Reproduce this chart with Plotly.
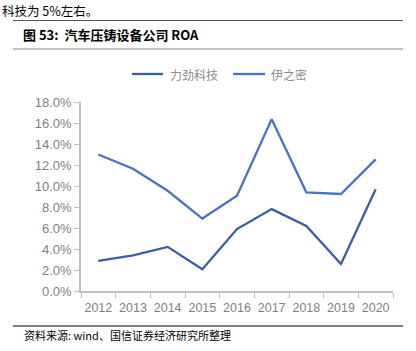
import plotly.graph_objects as go

years = ["2012", "2013", "2014", "2015", "2016", "2017", "2018", "2019", "2020"]
series_names = ["力劲科技", "伊之密"]
lijin = [2.86, 3.4, 4.2, 2.07, 5.9, 7.8, 6.2, 2.57, 9.7]
yizhimi = [13.0, 11.65, 9.55, 6.9, 9.07, 16.35, 9.4, 9.24, 12.54]
colors = ["#3B5DA6", "#4A72BD"]
y_ticks = [0, 2, 4, 6, 8, 10, 12, 14, 16, 18]

W, H = 416, 351
L, R, T, B = 81, 23, 102, 60
PW, PH = W - L - R, H - T - B

def px(x):
    return (x - L) / PW

def py(y):
    return (H - B - y) / PH

fig = go.Figure()
for name, vals, c in zip(series_names, [lijin, yizhimi], colors):
    fig.add_trace(go.Scatter(x=years, y=vals, mode="lines", name=name,
                             line=dict(color=c, width=2.3), showlegend=False))

fig.update_layout(
    width=W, height=H,
    margin=dict(l=L, r=R, t=T, b=B),
    paper_bgcolor="white", plot_bgcolor="white",
    font=dict(family="Liberation Sans, Arial", color="#7F7F7F"),
    xaxis=dict(type="category", tickson="boundaries", ticks="outside", ticklen=5,
               tickcolor="#BFBFBF", showline=True, linecolor="#BFBFBF", linewidth=1.5,
               showgrid=False, tickfont=dict(size=12.5, color="#7F7F7F"), tickangle=0,
               ticklabelstandoff=4,
               range=[-0.5, 8.5], fixedrange=True, automargin=False),
    yaxis=dict(range=[0, 18], tickvals=y_ticks, ticktext=[f"{v:.1f}%" for v in y_ticks],
               ticks="outside", ticklen=5, tickcolor="#BFBFBF", showline=True,
               linecolor="#BFBFBF", linewidth=1.5, showgrid=False, zeroline=False,
               tickfont=dict(size=13, color="#7F7F7F"), automargin=False),
)

annotations = []
shapes = []

# top body text
annotations.append(dict(text="科技为 5%左右。", x=px(0), y=py(10), xref="paper", yref="paper",
                        xanchor="left", yanchor="middle", showarrow=False,
                        font=dict(family="Noto Sans CJK SC", size=12.5, color="#000000")))
# title
annotations.append(dict(text="<b>图 53:  汽车压铸设备公司 ROA</b>", x=px(21), y=py(34), xref="paper", yref="paper",
                        xanchor="left", yanchor="middle", showarrow=False,
                        font=dict(family="Noto Sans CJK SC", size=13, color="#000000")))
# source
annotations.append(dict(text="资料来源: wind、国信证券经济研究所整理", x=px(22), y=py(335), xref="paper", yref="paper",
                        xanchor="left", yanchor="middle", showarrow=False,
                        font=dict(family="Noto Sans CJK SC", size=11, color="#000000")))

for y0, col in [(20.5, "#555555"), (49, "#888888"), (326, "#000000")]:
    shapes.append(dict(type="line", xref="paper", yref="paper", x0=px(13), x1=px(403),
                       y0=py(y0), y1=py(y0), line=dict(color=col, width=1)))

# legend
leg = [(132, 163, 168), (233, 265, 269)]
for (lx0, lx1, tx), name, c in zip(leg, series_names, colors):
    shapes.append(dict(type="line", xref="paper", yref="paper", x0=px(lx0), x1=px(lx1),
                       y0=py(74), y1=py(74), line=dict(color=c, width=2.3)))
    annotations.append(dict(text=name, x=px(tx), y=py(74), xref="paper", yref="paper",
                            xanchor="left", yanchor="middle", showarrow=False,
                            font=dict(family="Noto Sans CJK SC", size=12, color="#8C8C8C")))

fig.update_layout(annotations=annotations, shapes=shapes)
fig.write_html("out.html")
